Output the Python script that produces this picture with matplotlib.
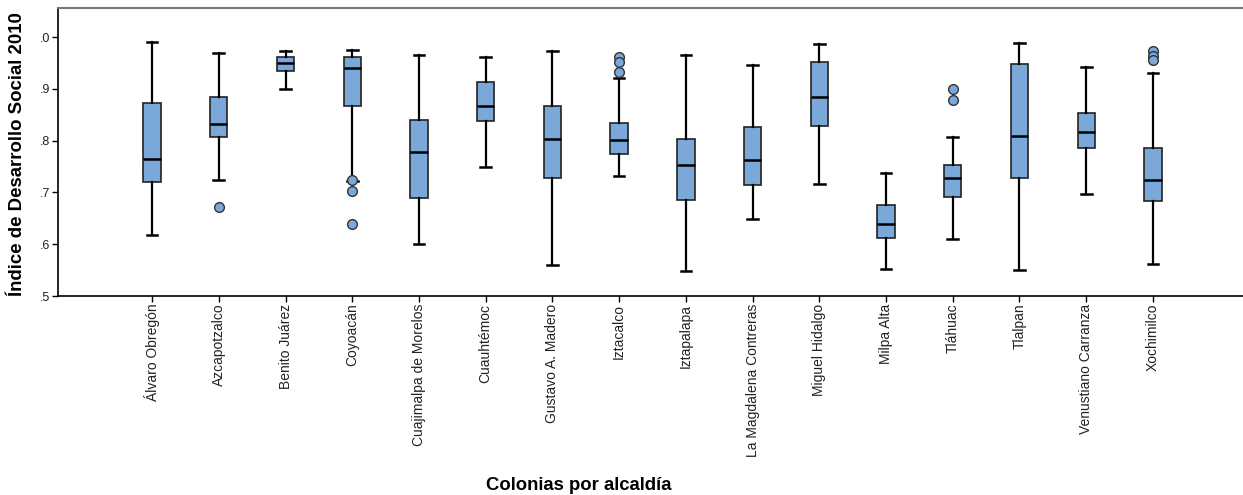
import matplotlib.pyplot as plt

alcaldias = ['Álvaro Obregón', 'Azcapotzalco', 'Benito Juárez', 'Coyoacán',
             'Cuajimalpa de Morelos', 'Cuauhtémoc', 'Gustavo A. Madero', 'Iztacalco',
             'Iztapalapa', 'La Magdalena Contreras', 'Miguel Hidalgo', 'Milpa Alta',
             'Tláhuac', 'Tlalpan', 'Venustiano Carranza', 'Xochimilco']

# valores (IDS 2010)
whisk_lo = [0.617, 0.725, 0.899, 0.722, 0.600, 0.749, 0.560, 0.732,
            0.548, 0.649, 0.717, 0.552, 0.610, 0.550, 0.698, 0.562]
q1 = [0.721, 0.807, 0.935, 0.867, 0.690, 0.839, 0.728, 0.775,
      0.685, 0.715, 0.829, 0.612, 0.691, 0.727, 0.785, 0.683]
medianas = [0.764, 0.833, 0.950, 0.940, 0.778, 0.868, 0.803, 0.801,
            0.753, 0.762, 0.885, 0.639, 0.728, 0.809, 0.817, 0.725]
q3 = [0.872, 0.884, 0.961, 0.962, 0.840, 0.914, 0.867, 0.834,
      0.803, 0.826, 0.953, 0.675, 0.754, 0.949, 0.853, 0.786]
whisk_hi = [0.991, 0.969, 0.973, 0.976, 0.966, 0.962, 0.974, 0.921,
            0.965, 0.946, 0.986, 0.738, 0.808, 0.988, 0.943, 0.930]
atipicos = [[], [0.671], [], [0.724, 0.703, 0.639], [], [], [], [0.962, 0.953, 0.933],
            [], [], [], [], [0.900, 0.878], [], [], [0.974, 0.964, 0.955]]

yticks = [0.5, 0.6, 0.7, 0.8, 0.9, 1.0]
ytick_labels = ['.5', '.6', '.7', '.8', '.9', '.0']

plt.rcParams['font.family'] = ['Liberation Sans', 'DejaVu Sans']

stats = []
for i in range(len(alcaldias)):
    stats.append({'whislo': whisk_lo[i], 'q1': q1[i], 'med': medianas[i],
                  'q3': q3[i], 'whishi': whisk_hi[i], 'fliers': atipicos[i]})

fig = plt.figure(figsize=(12.43, 4.95), dpi=100)
ax = fig.add_axes([0.0467, 0.402, 0.9533, 0.582])

azul = '#79a8d9'
res = ax.bxp(stats, positions=range(len(alcaldias)), widths=0.26, capwidths=0.16,
             patch_artist=True, showfliers=True,
             boxprops=dict(facecolor=azul, edgecolor='#222222', linewidth=1.2),
             medianprops=dict(color='black', linewidth=1.8),
             whiskerprops=dict(color='black', linewidth=1.6),
             capprops=dict(color='black', linewidth=1.8),
             flierprops=dict(marker='o', markerfacecolor=azul, markeredgecolor='#333333',
                             markersize=7, markeredgewidth=1.0))
for f in res['fliers']:
    f.set_zorder(3)

ax.set_xlim(-1.409, 16.35)
ax.set_ylim(0.5, 1.0565)
ax.set_yticks(yticks)
ax.set_yticklabels(ytick_labels, fontsize=9, color='#222222')
ax.set_xticks(range(len(alcaldias)))
ax.set_xticklabels(alcaldias, rotation=90, fontsize=10, color='#222222')
ax.tick_params(axis='both', length=4, width=1, pad=1.5, direction='out')

for s in ['left', 'bottom']:
    ax.spines[s].set_linewidth(1.2)
    ax.spines[s].set_color('black')
ax.spines['top'].set_color('#777777')
ax.spines['top'].set_linewidth(1.5)
ax.spines['right'].set_visible(False)

fig.text(0.0137, 0.689, 'Índice de Desarrollo Social 2010', rotation=90,
         fontsize=13.4, fontweight='bold', ha='center', va='center')
fig.text(0.466, 0.02, 'Colonias por alcaldía', fontsize=13.3, fontweight='bold',
         ha='center', va='center')

fig.savefig('out.png', dpi=100)
